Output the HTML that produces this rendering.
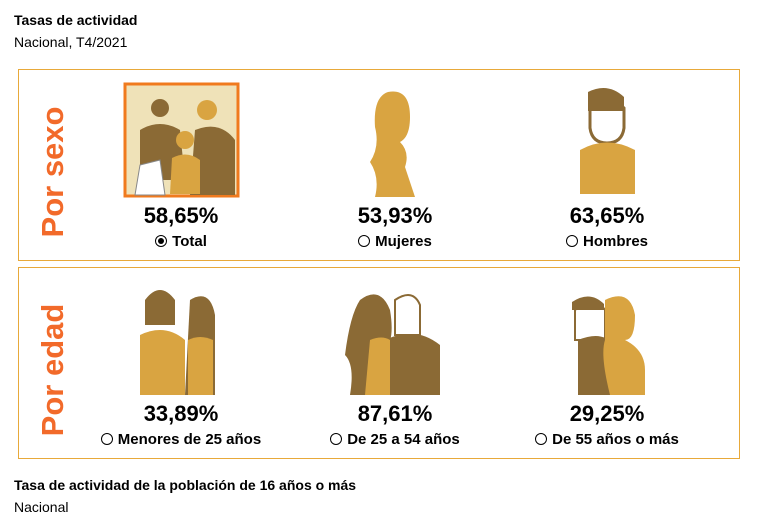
<!DOCTYPE html>
<html><head><meta charset="utf-8"><style>
body{margin:0;width:757px;height:525px;background:#fff;font-family:"Liberation Sans",Arial,sans-serif;position:relative;overflow:hidden;color:#000}
.a{position:absolute}
.box{position:absolute;left:18px;width:720px;border:1px solid #e8a93a}
.vt{position:absolute;left:53px;transform:translate(-50%,-50%) rotate(-90deg);color:#f26a2a;font-weight:bold;font-size:31px;white-space:nowrap}
.val{position:absolute;width:200px;text-align:center;font-weight:bold;font-size:22px}
.lab{position:absolute;width:240px;text-align:center;font-weight:bold;font-size:15px}
.r{display:inline-block;width:10px;height:10px;border:1px solid #000;border-radius:50%;vertical-align:-1px;margin-right:5px;position:relative}
.r.on::after{content:"";position:absolute;left:2px;top:2px;width:6px;height:6px;border-radius:50%;background:#000}
</style></head><body>
<div class="a" style="left:14px;top:12px;font-size:14px;font-weight:bold">Tasas de actividad</div>
<div class="a" style="left:14px;top:34px;font-size:14px">Nacional, T4/2021</div>
<div class="box" style="top:69px;height:190px"></div>
<div class="box" style="top:267px;height:190px"></div>
<div class="vt" style="top:172px">Por sexo</div>
<div class="vt" style="top:370px">Por edad</div>

<svg class="a" style="left:0;top:0" width="757" height="525">
<rect x="125" y="84" width="113" height="112" fill="#efe2b8" stroke="#f07a1e" stroke-width="3"/>
<g fill="#8b6a35"><circle cx="160" cy="108" r="9"/><path d="M140 130 q20 -12 40 0 l5 50 h-45z"/><path d="M195 130 q25 -10 40 10 v55 h-45z"/></g>
<g fill="#d9a441"><circle cx="207" cy="110" r="10"/><circle cx="185" cy="140" r="9"/><path d="M172 158 q15 -8 28 2 v34 h-30z"/></g>
<path d="M140 165 l20 -5 5 35 h-30z" fill="#fff" stroke="#888"/>
<g fill="#d9a441"><path d="M388 92 q22 -4 22 25 q0 20 -10 25 q10 10 5 25 l10 30 h-40 q5 -20 -5 -35 q10 -15 5 -35 q-2 -30 13 -35z"/></g>
<g><path d="M590 108 q18 -16 34 0 v20 q-2 15 -17 15 q-15 0 -17 -15z" fill="#fff" stroke="#8b6a35" stroke-width="3"/><path d="M588 92 q20 -10 36 5 v14 h-36z" fill="#8b6a35"/><path d="M580 150 q27 -15 55 0 v44 h-55z" fill="#d9a441"/></g>
<g><path d="M140 335 q25 -12 45 5 v55 h-45z" fill="#d9a441"/><path d="M145 300 q15 -20 30 0 v25 h-30z" fill="#8b6a35"/><path d="M190 300 q20 -12 25 15 v80 h-30z" fill="#8b6a35"/><path d="M188 340 q12 -6 25 0 v55 h-25z" fill="#d9a441"/></g>
<g><path d="M360 300 q20 -15 30 10 q5 30 -5 40 l10 45 h-45 q5 -30 -5 -40 q5 -40 15 -55z" fill="#8b6a35"/><path d="M385 340 q30 -15 55 5 v50 h-55z" fill="#8b6a35"/><path d="M395 300 q18 -12 25 5 v30 h-25z" fill="#fff" stroke="#8b6a35" stroke-width="2"/><path d="M370 340 q12 -5 20 0 v55 h-25z" fill="#d9a441"/></g>
<g><path d="M575 310 q20 -15 30 0 v30 h-30z" fill="#fff" stroke="#8b6a35" stroke-width="2"/><path d="M572 302 q18 -12 32 2 v6 h-32z" fill="#8b6a35"/><path d="M578 340 q25 -10 35 5 v50 h-35z" fill="#8b6a35"/><path d="M605 300 q25 -12 30 15 q0 25 -10 25 q20 10 20 30 v25 h-35 q-10 -40 -5 -55z" fill="#d9a441"/></g>
</svg>

<div class="val" style="left:81px;top:203px">58,65%</div>
<div class="val" style="left:295px;top:203px">53,93%</div>
<div class="val" style="left:507px;top:203px">63,65%</div>
<div class="lab" style="left:61px;top:233px"><span class="r on"></span>Total</div>
<div class="lab" style="left:275px;top:233px"><span class="r"></span>Mujeres</div>
<div class="lab" style="left:487px;top:233px"><span class="r"></span>Hombres</div>
<div class="val" style="left:81px;top:401px">33,89%</div>
<div class="val" style="left:295px;top:401px">87,61%</div>
<div class="val" style="left:507px;top:401px">29,25%</div>
<div class="lab" style="left:61px;top:431px"><span class="r"></span>Menores de 25 años</div>
<div class="lab" style="left:275px;top:431px"><span class="r"></span>De 25 a 54 años</div>
<div class="lab" style="left:487px;top:431px"><span class="r"></span>De 55 años o más</div>
<div class="a" style="left:14px;top:477px;font-size:14px;font-weight:bold">Tasa de actividad de la población de 16 años o más</div>
<div class="a" style="left:14px;top:499px;font-size:14px">Nacional</div>
</body></html>
